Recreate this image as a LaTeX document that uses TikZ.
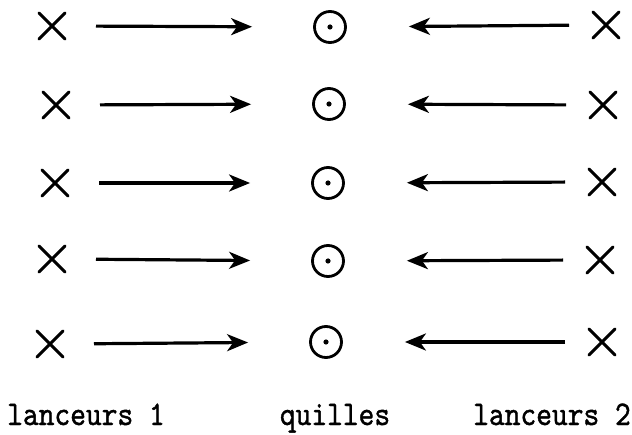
\documentclass[tikz,border=0pt]{standalone}
\usepackage{fontspec}
\newfontfamily\typew[FakeBold=1.2]{lmmono10-regular.otf}
\usetikzlibrary{arrows.meta,shapes.misc}
\begin{document}
\begin{tikzpicture}[x=1pt,y=-1pt,
  thrower/.style={cross out, draw, minimum size=23pt, inner sep=0pt, line width=3pt, line cap=round},
  pin/.style={circle, draw, minimum size=31pt, inner sep=0pt, line width=2.8pt},
  toright/.style={line width=3.2pt, -{Stealth[length=21pt,width=17pt,inset=6pt]}, shorten <=31pt, shorten >=61pt},
  toleft/.style={line width=3.2pt, -{Stealth[length=21pt,width=17pt,inset=6pt]}, shorten <=24pt, shorten >=62pt},
  label/.style={font=\typew\fontsize{30}{30}\selectfont, anchor=base, inner sep=0pt}]
\useasboundingbox (0,0) rectangle (632,435);
\foreach \i/\lx/\ly/\cx/\cy/\rx/\ry in {1/52/26/330/27/606/25, 2/56/105/329/104/603/105, 3/55/183/328/183/602/182, 4/52/259/328/261/600/260, 5/50/344/326/342/602/342} {
  \node[thrower] (L\i) at (\lx,\ly) {};
  \node[pin] (C\i) at (\cx,\cy) {};
  \node[thrower] (R\i) at (\rx,\ry) {};
  \fill (C\i.center) circle (2.6pt);
  \draw[toright] (L\i.east) -- (C\i.west);
  \draw[toleft] (R\i.west) -- (C\i.east);
}
\node[label] (t1) at (86,425) {\scalebox{1}[1.15]{lanceurs 1}};
\node[label] (t2) at (335,425) {\scalebox{1}[1.15]{quilles}};
\node[label] (t3) at (552,425) {\scalebox{1}[1.15]{lanceurs 2}};
\end{tikzpicture}
\end{document}
